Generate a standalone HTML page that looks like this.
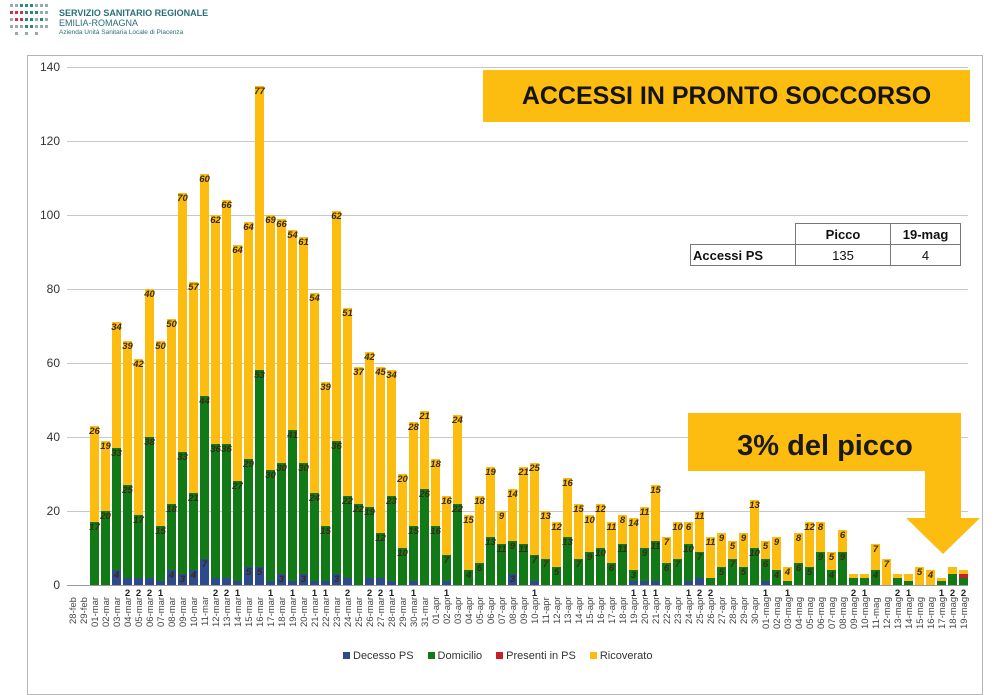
<!DOCTYPE html>
<html><head><meta charset="utf-8"><style>
*{margin:0;padding:0;box-sizing:border-box}
body{width:994px;height:671px;overflow:hidden;background:#fff;font-family:"Liberation Sans",sans-serif;position:relative}
.frame{position:absolute;left:27px;top:55px;width:956px;height:640px;border:1px solid #b5b5b5}
.grid{position:absolute;left:67px;width:901px;height:1px;background:#c8c8c8}
.yl{position:absolute;left:30px;width:30px;text-align:right;font-size:12px;color:#333}
#bars{position:absolute;left:90px;top:0;height:585px;display:flex;align-items:flex-end;gap:2px}
.b{width:9px;display:flex;flex-direction:column-reverse;position:relative}
.b i{display:block;position:relative;height:calc(var(--v)*3.7px)}
.d{background:#2d4b8c}.g{background:#117a16}.p{background:#c8202a}.y{background:#fdbd10}
.b s{position:absolute;left:-6px;right:-6px;top:1px;text-align:center;text-decoration:none;font-size:9.5px;font-weight:bold;color:#3a2a10;line-height:10px}
.b em{position:absolute;left:-4px;right:-4px;top:100%;margin-top:3px;text-align:center;font-style:normal;font-size:9.5px;font-weight:bold;color:#222}
#xl{position:absolute;left:68px;top:597px;display:flex}
#xl span{width:11px;height:46px;writing-mode:vertical-rl;transform:rotate(180deg);text-align:end;font-size:9.5px;color:#444;line-height:11px}
</style></head><body>
<svg style="position:absolute;left:10px;top:2px" width="42" height="34">
<g fill="#9aa">
<rect x="0" y="2" width="3" height="3"/><rect x="5" y="2" width="3" height="3"/><rect x="10" y="2" width="3" height="3" fill="#2a8a7a"/><rect x="15" y="2" width="3" height="3" fill="#2a8a7a"/><rect x="20" y="2" width="3" height="3" fill="#2a8a7a"/><rect x="25" y="2" width="3" height="3"/><rect x="30" y="2" width="3" height="3"/><rect x="35" y="2" width="3" height="3"/>
<rect x="0" y="9" width="3" height="3" fill="#c34"/><rect x="5" y="9" width="3" height="3" fill="#c34"/><rect x="10" y="9" width="3" height="3" fill="#c34"/><rect x="15" y="9" width="3" height="3" fill="#2a8a7a"/><rect x="20" y="9" width="3" height="3" fill="#2a8a7a"/><rect x="25" y="9" width="3" height="3" fill="#2a8a7a"/><rect x="30" y="9" width="3" height="3"/><rect x="35" y="9" width="3" height="3"/>
<rect x="0" y="16" width="3" height="3"/><rect x="5" y="16" width="3" height="3" fill="#c34"/><rect x="10" y="16" width="3" height="3" fill="#c34"/><rect x="15" y="16" width="3" height="3" fill="#2a8a7a"/><rect x="20" y="16" width="3" height="3" fill="#2a8a7a"/><rect x="25" y="16" width="3" height="3"/><rect x="30" y="16" width="3" height="3" fill="#2a8a7a"/><rect x="35" y="16" width="3" height="3"/>
<rect x="0" y="23" width="3" height="3"/><rect x="5" y="23" width="3" height="3"/><rect x="10" y="23" width="3" height="3"/><rect x="15" y="23" width="3" height="3" fill="#2a8a7a"/><rect x="20" y="23" width="3" height="3" fill="#2a8a7a"/><rect x="25" y="23" width="3" height="3"/><rect x="30" y="23" width="3" height="3"/><rect x="35" y="23" width="3" height="3"/>
<rect x="5" y="30" width="3" height="3"/><rect x="15" y="30" width="3" height="3"/><rect x="25" y="30" width="3" height="3"/></g></svg>
<div style="position:absolute;left:59px;top:8px;font-size:9px;font-weight:bold;color:#2a6f7a">SERVIZIO SANITARIO REGIONALE</div>
<div style="position:absolute;left:59px;top:18px;font-size:9px;color:#2a6f7a">EMILIA-ROMAGNA</div>
<div style="position:absolute;left:59px;top:29px;font-size:6.5px;color:#2a6f7a">Azienda Unità Sanitaria Locale di Piacenza</div>
<div class="frame"></div>
<div class="grid" style="top:67px"></div><div class="grid" style="top:141px"></div><div class="grid" style="top:215px"></div><div class="grid" style="top:289px"></div><div class="grid" style="top:363px"></div><div class="grid" style="top:437px"></div><div class="grid" style="top:511px"></div><div class="grid" style="top:585px;background:#999"></div>
<div class="yl" style="top:60px">140</div><div class="yl" style="top:134px">120</div><div class="yl" style="top:208px">100</div><div class="yl" style="top:282px">80</div><div class="yl" style="top:356px">60</div><div class="yl" style="top:430px">40</div><div class="yl" style="top:504px">20</div><div class="yl" style="top:578px">0</div>
<div style="position:absolute;left:483px;top:70px;width:487px;height:52px;background:#fdbd10;color:#141414;font-weight:bold;font-size:25px;line-height:52px;text-align:center">ACCESSI IN PRONTO SOCCORSO</div>
<table style="position:absolute;left:690px;top:223px;border-collapse:collapse;font-size:13px;color:#111">
<tr style="height:21px"><td style="width:105px"></td><td style="width:95px;border:1px solid #777;text-align:center;font-weight:bold">Picco</td><td style="width:70px;border:1px solid #777;text-align:center;font-weight:bold">19-mag</td></tr>
<tr style="height:21px"><td style="border:1px solid #777;font-weight:bold;padding-left:2px">Accessi PS</td><td style="border:1px solid #777;text-align:center">135</td><td style="border:1px solid #777;text-align:center">4</td></tr></table>
<div id="bars">
<div class="b"><i class="g" style="--v:17"><s>17</s></i><i class="y" style="--v:26"><s>26</s></i></div>
<div class="b"><i class="g" style="--v:20"><s>20</s></i><i class="y" style="--v:19"><s>19</s></i></div>
<div class="b"><i class="d" style="--v:4"><s>4</s></i><i class="g" style="--v:33"><s>33</s></i><i class="y" style="--v:34"><s>34</s></i></div>
<div class="b"><i class="d" style="--v:2"></i><i class="g" style="--v:25"><s>25</s></i><i class="y" style="--v:39"><s>39</s></i><em>2</em></div>
<div class="b"><i class="d" style="--v:2"></i><i class="g" style="--v:17"><s>17</s></i><i class="y" style="--v:42"><s>42</s></i><em>2</em></div>
<div class="b"><i class="d" style="--v:2"></i><i class="g" style="--v:38"><s>38</s></i><i class="y" style="--v:40"><s>40</s></i><em>2</em></div>
<div class="b"><i class="d" style="--v:1"></i><i class="g" style="--v:15"><s>15</s></i><i class="y" style="--v:50"><s>50</s></i><em>1</em></div>
<div class="b"><i class="d" style="--v:4"><s>4</s></i><i class="g" style="--v:18"><s>18</s></i><i class="y" style="--v:50"><s>50</s></i></div>
<div class="b"><i class="d" style="--v:3"><s>3</s></i><i class="g" style="--v:33"><s>33</s></i><i class="y" style="--v:70"><s>70</s></i></div>
<div class="b"><i class="d" style="--v:4"><s>4</s></i><i class="g" style="--v:21"><s>21</s></i><i class="y" style="--v:57"><s>57</s></i></div>
<div class="b"><i class="d" style="--v:7"><s>7</s></i><i class="g" style="--v:44"><s>44</s></i><i class="y" style="--v:60"><s>60</s></i></div>
<div class="b"><i class="d" style="--v:2"></i><i class="g" style="--v:36"><s>36</s></i><i class="y" style="--v:62"><s>62</s></i><em>2</em></div>
<div class="b"><i class="d" style="--v:2"></i><i class="g" style="--v:36"><s>36</s></i><i class="y" style="--v:66"><s>66</s></i><em>2</em></div>
<div class="b"><i class="d" style="--v:1"></i><i class="g" style="--v:27"><s>27</s></i><i class="y" style="--v:64"><s>64</s></i><em>1</em></div>
<div class="b"><i class="d" style="--v:5"><s>5</s></i><i class="g" style="--v:29"><s>29</s></i><i class="y" style="--v:64"><s>64</s></i></div>
<div class="b"><i class="d" style="--v:5"><s>5</s></i><i class="g" style="--v:53"><s>53</s></i><i class="y" style="--v:77"><s>77</s></i></div>
<div class="b"><i class="d" style="--v:1"></i><i class="g" style="--v:30"><s>30</s></i><i class="y" style="--v:69"><s>69</s></i><em>1</em></div>
<div class="b"><i class="d" style="--v:3"><s>3</s></i><i class="g" style="--v:30"><s>30</s></i><i class="y" style="--v:66"><s>66</s></i></div>
<div class="b"><i class="d" style="--v:1"></i><i class="g" style="--v:41"><s>41</s></i><i class="y" style="--v:54"><s>54</s></i><em>1</em></div>
<div class="b"><i class="d" style="--v:3"><s>3</s></i><i class="g" style="--v:30"><s>30</s></i><i class="y" style="--v:61"><s>61</s></i></div>
<div class="b"><i class="d" style="--v:1"></i><i class="g" style="--v:24"><s>24</s></i><i class="y" style="--v:54"><s>54</s></i><em>1</em></div>
<div class="b"><i class="d" style="--v:1"></i><i class="g" style="--v:15"><s>15</s></i><i class="y" style="--v:39"><s>39</s></i><em>1</em></div>
<div class="b"><i class="d" style="--v:3"><s>3</s></i><i class="g" style="--v:36"><s>36</s></i><i class="y" style="--v:62"><s>62</s></i></div>
<div class="b"><i class="d" style="--v:2"></i><i class="g" style="--v:22"><s>22</s></i><i class="y" style="--v:51"><s>51</s></i><em>2</em></div>
<div class="b"><i class="g" style="--v:22"><s>22</s></i><i class="y" style="--v:37"><s>37</s></i></div>
<div class="b"><i class="d" style="--v:2"></i><i class="g" style="--v:19"><s>19</s></i><i class="y" style="--v:42"><s>42</s></i><em>2</em></div>
<div class="b"><i class="d" style="--v:2"></i><i class="g" style="--v:12"><s>12</s></i><i class="y" style="--v:45"><s>45</s></i><em>2</em></div>
<div class="b"><i class="d" style="--v:1"></i><i class="g" style="--v:23"><s>23</s></i><i class="y" style="--v:34"><s>34</s></i><em>1</em></div>
<div class="b"><i class="g" style="--v:10"><s>10</s></i><i class="y" style="--v:20"><s>20</s></i></div>
<div class="b"><i class="d" style="--v:1"></i><i class="g" style="--v:15"><s>15</s></i><i class="y" style="--v:28"><s>28</s></i><em>1</em></div>
<div class="b"><i class="g" style="--v:26"><s>26</s></i><i class="y" style="--v:21"><s>21</s></i></div>
<div class="b"><i class="g" style="--v:16"><s>16</s></i><i class="y" style="--v:18"><s>18</s></i></div>
<div class="b"><i class="d" style="--v:1"></i><i class="g" style="--v:7"><s>7</s></i><i class="y" style="--v:16"><s>16</s></i><em>1</em></div>
<div class="b"><i class="g" style="--v:22"><s>22</s></i><i class="y" style="--v:24"><s>24</s></i></div>
<div class="b"><i class="g" style="--v:4"><s>4</s></i><i class="y" style="--v:15"><s>15</s></i></div>
<div class="b"><i class="g" style="--v:6"><s>6</s></i><i class="y" style="--v:18"><s>18</s></i></div>
<div class="b"><i class="g" style="--v:13"><s>13</s></i><i class="y" style="--v:19"><s>19</s></i></div>
<div class="b"><i class="g" style="--v:11"><s>11</s></i><i class="y" style="--v:9"><s>9</s></i></div>
<div class="b"><i class="d" style="--v:3"><s>3</s></i><i class="g" style="--v:9"><s>9</s></i><i class="y" style="--v:14"><s>14</s></i></div>
<div class="b"><i class="g" style="--v:11"><s>11</s></i><i class="y" style="--v:21"><s>21</s></i></div>
<div class="b"><i class="d" style="--v:1"></i><i class="g" style="--v:7"><s>7</s></i><i class="y" style="--v:25"><s>25</s></i><em>1</em></div>
<div class="b"><i class="g" style="--v:7"><s>7</s></i><i class="y" style="--v:13"><s>13</s></i></div>
<div class="b"><i class="g" style="--v:5"><s>5</s></i><i class="y" style="--v:12"><s>12</s></i></div>
<div class="b"><i class="g" style="--v:13"><s>13</s></i><i class="y" style="--v:16"><s>16</s></i></div>
<div class="b"><i class="g" style="--v:7"><s>7</s></i><i class="y" style="--v:15"><s>15</s></i></div>
<div class="b"><i class="g" style="--v:9"><s>9</s></i><i class="y" style="--v:10"><s>10</s></i></div>
<div class="b"><i class="g" style="--v:10"><s>10</s></i><i class="y" style="--v:12"><s>12</s></i></div>
<div class="b"><i class="g" style="--v:6"><s>6</s></i><i class="y" style="--v:11"><s>11</s></i></div>
<div class="b"><i class="g" style="--v:11"><s>11</s></i><i class="y" style="--v:8"><s>8</s></i></div>
<div class="b"><i class="d" style="--v:1"></i><i class="g" style="--v:3"><s>3</s></i><i class="y" style="--v:14"><s>14</s></i><em>1</em></div>
<div class="b"><i class="d" style="--v:1"></i><i class="g" style="--v:9"><s>9</s></i><i class="y" style="--v:11"><s>11</s></i><em>1</em></div>
<div class="b"><i class="d" style="--v:1"></i><i class="g" style="--v:11"><s>11</s></i><i class="y" style="--v:15"><s>15</s></i><em>1</em></div>
<div class="b"><i class="g" style="--v:6"><s>6</s></i><i class="y" style="--v:7"><s>7</s></i></div>
<div class="b"><i class="g" style="--v:7"><s>7</s></i><i class="y" style="--v:10"><s>10</s></i></div>
<div class="b"><i class="d" style="--v:1"></i><i class="g" style="--v:10"><s>10</s></i><i class="y" style="--v:6"><s>6</s></i><em>1</em></div>
<div class="b"><i class="d" style="--v:2"></i><i class="g" style="--v:7"><s>7</s></i><i class="y" style="--v:11"><s>11</s></i><em>2</em></div>
<div class="b"><i class="g" style="--v:2"></i><i class="y" style="--v:11"><s>11</s></i><em>2</em></div>
<div class="b"><i class="g" style="--v:5"><s>5</s></i><i class="y" style="--v:9"><s>9</s></i></div>
<div class="b"><i class="g" style="--v:7"><s>7</s></i><i class="y" style="--v:5"><s>5</s></i></div>
<div class="b"><i class="g" style="--v:5"><s>5</s></i><i class="y" style="--v:9"><s>9</s></i></div>
<div class="b"><i class="g" style="--v:10"><s>10</s></i><i class="y" style="--v:13"><s>13</s></i></div>
<div class="b"><i class="d" style="--v:1"></i><i class="g" style="--v:6"><s>6</s></i><i class="y" style="--v:5"><s>5</s></i><em>1</em></div>
<div class="b"><i class="g" style="--v:4"><s>4</s></i><i class="y" style="--v:9"><s>9</s></i></div>
<div class="b"><i class="g" style="--v:1"></i><i class="y" style="--v:4"><s>4</s></i><em>1</em></div>
<div class="b"><i class="g" style="--v:6"><s>6</s></i><i class="y" style="--v:8"><s>8</s></i></div>
<div class="b"><i class="g" style="--v:5"><s>5</s></i><i class="y" style="--v:12"><s>12</s></i></div>
<div class="b"><i class="g" style="--v:9"><s>9</s></i><i class="y" style="--v:8"><s>8</s></i></div>
<div class="b"><i class="g" style="--v:4"><s>4</s></i><i class="y" style="--v:5"><s>5</s></i></div>
<div class="b"><i class="g" style="--v:9"><s>9</s></i><i class="y" style="--v:6"><s>6</s></i></div>
<div class="b"><i class="g" style="--v:2"></i><i class="y" style="--v:1"></i><em>2</em></div>
<div class="b"><i class="g" style="--v:2"></i><i class="y" style="--v:1"></i><em>1</em></div>
<div class="b"><i class="g" style="--v:4"><s>4</s></i><i class="y" style="--v:7"><s>7</s></i></div>
<div class="b"><i class="y" style="--v:7"><s>7</s></i></div>
<div class="b"><i class="g" style="--v:2"></i><i class="y" style="--v:1"></i><em>2</em></div>
<div class="b"><i class="g" style="--v:1"></i><i class="y" style="--v:2"></i><em>1</em></div>
<div class="b"><i class="y" style="--v:5"><s>5</s></i></div>
<div class="b"><i class="y" style="--v:4"><s>4</s></i></div>
<div class="b"><i class="g" style="--v:1"></i><i class="y" style="--v:1"></i><em>1</em></div>
<div class="b"><i class="g" style="--v:3"></i><i class="y" style="--v:2"></i><em>2</em></div>
<div class="b"><i class="g" style="--v:2"></i><i class="p" style="--v:1"></i><i class="y" style="--v:1"></i><em>2</em></div>
</div>
<div id="xl"><span>28-feb</span><span>29-feb</span><span>01-mar</span><span>02-mar</span><span>03-mar</span><span>04-mar</span><span>05-mar</span><span>06-mar</span><span>07-mar</span><span>08-mar</span><span>09-mar</span><span>10-mar</span><span>11-mar</span><span>12-mar</span><span>13-mar</span><span>14-mar</span><span>15-mar</span><span>16-mar</span><span>17-mar</span><span>18-mar</span><span>19-mar</span><span>20-mar</span><span>21-mar</span><span>22-mar</span><span>23-mar</span><span>24-mar</span><span>25-mar</span><span>26-mar</span><span>27-mar</span><span>28-mar</span><span>29-mar</span><span>30-mar</span><span>31-mar</span><span>01-apr</span><span>02-apr</span><span>03-apr</span><span>04-apr</span><span>05-apr</span><span>06-apr</span><span>07-apr</span><span>08-apr</span><span>09-apr</span><span>10-apr</span><span>11-apr</span><span>12-apr</span><span>13-apr</span><span>14-apr</span><span>15-apr</span><span>16-apr</span><span>17-apr</span><span>18-apr</span><span>19-apr</span><span>20-apr</span><span>21-apr</span><span>22-apr</span><span>23-apr</span><span>24-apr</span><span>25-apr</span><span>26-apr</span><span>27-apr</span><span>28-apr</span><span>29-apr</span><span>30-apr</span><span>01-mag</span><span>02-mag</span><span>03-mag</span><span>04-mag</span><span>05-mag</span><span>06-mag</span><span>07-mag</span><span>08-mag</span><span>09-mag</span><span>10-mag</span><span>11-mag</span><span>12-mag</span><span>13-mag</span><span>14-mag</span><span>15-mag</span><span>16-mag</span><span>17-mag</span><span>18-mag</span><span>19-mag</span></div>
<svg style="position:absolute;left:0;top:0" width="994" height="671">
<polygon points="688,413 961,413 961,518 980,518 943,554 906,518 925,518 925,471 688,471" fill="#fdbd10"/>
<text x="825" y="455" font-family="Liberation Sans" font-weight="bold" font-size="29" fill="#1a1a1a" text-anchor="middle">3% del picco</text>
</svg>
<div style="position:absolute;top:650px;left:343px;font-size:11px;color:#333;display:flex;gap:14px;white-space:nowrap">
<span><b style="display:inline-block;width:7px;height:7px;background:#2d4b8c;margin-right:3px"></b>Decesso PS</span>
<span><b style="display:inline-block;width:7px;height:7px;background:#117a16;margin-right:3px"></b>Domicilio</span>
<span><b style="display:inline-block;width:7px;height:7px;background:#c8202a;margin-right:3px"></b>Presenti in PS</span>
<span><b style="display:inline-block;width:7px;height:7px;background:#fdbd10;margin-right:3px"></b>Ricoverato</span></div>
</body></html>
